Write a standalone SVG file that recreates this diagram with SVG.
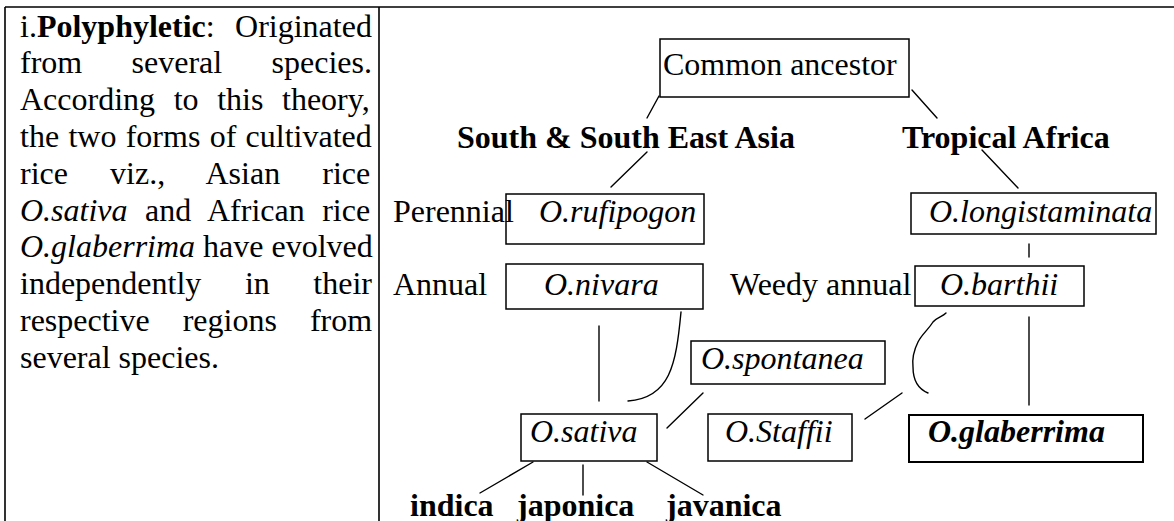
<svg xmlns="http://www.w3.org/2000/svg" width="1174" height="521" viewBox="0 0 1174 521">
<style>
text { font-family: "Liberation Serif", "Times New Roman", serif; font-size: 32px; fill: #000; }
.b { font-weight: bold; }
.i { font-style: italic; }
.box { fill: none; stroke: #000; stroke-width: 1.5; }
.ln { fill: none; stroke: #000; stroke-width: 1.4; stroke-linecap: round; }
.tbl { fill: none; stroke: #000; stroke-width: 1.6; }
</style>
<rect width="1174" height="521" fill="#fff"/>
<g id="table">
<path class="tbl" d="M5,7H1174 M5,7V521 M379,7V521"/>
</g>
<g id="description">
<text x="20" y="36.5" style="word-spacing:12.4px">i.<tspan class="b">Polyphyletic</tspan>: Originated</text>
<text x="20" y="73.3" style="word-spacing:41.4px">from several species.</text>
<text x="20" y="110.1" style="word-spacing:10.6px">According to this theory,</text>
<text x="20" y="146.9" style="word-spacing:1.3px">the two forms of cultivated</text>
<text x="20" y="183.7" style="word-spacing:34.1px">rice viz., Asian rice</text>
<text x="20" y="220.5" style="word-spacing:9.5px"><tspan class="i">O.sativa</tspan> and African rice</text>
<text x="20" y="257.3"><tspan class="i">O.glaberrima</tspan> have evolved</text>
<text x="20" y="294.1" style="word-spacing:35.6px">independently in their</text>
<text x="20" y="330.9" style="word-spacing:25px">respective regions from</text>
<text x="20" y="367.7">several species.</text>
</g>
<g id="connectors">
<path class="ln" d="M659,96 L647,118"/>
<path class="ln" d="M647,152 L611,187"/>
<path class="ln" d="M912,90 L937,118"/>
<path class="ln" d="M982,150 L1018,188"/>
<path class="ln" d="M1029,244 L1029,257" stroke="#777" stroke-width="1"/>
<path class="ln" d="M599,326 L599,401"/>
<path class="ln" d="M681,312 C676,365 670,398 628,401"/>
<path class="ln" d="M703,393 L667,428"/>
<path class="ln" d="M946,313 C942,317 937,317 933,322 C928,330 922,334 918,342 C914,350 912,358 913,367 C913,377 916,388 928,393" stroke-width="1.9"/>
<path class="ln" d="M902,393 L865,419"/>
<path class="ln" d="M1029,317 L1029,405"/>
<path class="ln" d="M533,462 L480,493"/>
<path class="ln" d="M583,465 L583,495"/>
<path class="ln" d="M647,462 L703,495"/>
</g>
<g id="node-common-ancestor"><rect class="box" x="660" y="39" width="249" height="58"/><text x="663" y="75">Common ancestor</text></g>
<g id="label-south-asia"><text class="b" x="457" y="148">South &amp; South East Asia</text></g>
<g id="label-tropical-africa"><text class="b" x="902" y="148">Tropical Africa</text></g>
<g id="label-perennial"><text x="393" y="222">Perennial</text></g>
<g id="node-rufipogon"><rect class="box" x="506" y="194" width="198" height="50"/><text class="i" x="539" y="222">O.rufipogon</text></g>
<g id="node-longistaminata"><rect class="box" x="911" y="193" width="245" height="41"/><text class="i" x="929" y="222">O.longistaminata</text></g>
<g id="label-annual"><text x="393" y="295">Annual</text></g>
<g id="node-nivara"><rect class="box" x="506" y="264" width="197" height="45"/><text class="i" x="544" y="295">O.nivara</text></g>
<g id="label-weedy-annual"><text x="730" y="295">Weedy annual</text></g>
<g id="node-barthii"><rect class="box" x="915" y="266" width="169" height="40"/><text class="i" x="940" y="295">O.barthii</text></g>
<g id="node-spontanea"><rect class="box" x="691" y="341" width="194" height="43"/><text class="i" x="701" y="369">O.spontanea</text></g>
<g id="node-sativa"><rect class="box" x="521" y="414" width="136" height="47"/><text class="i" x="530" y="442">O.sativa</text></g>
<g id="node-staffii"><rect class="box" x="708" y="414" width="144" height="47"/><text class="i" x="725" y="442">O.Staffii</text></g>
<g id="node-glaberrima"><rect class="box" x="909" y="415" width="234" height="47" style="stroke-width:2"/><text class="b i" x="928" y="442">O.glaberrima</text></g>
<g id="label-indica"><text class="b" x="410" y="516">indica</text></g>
<g id="label-japonica"><text class="b" x="517" y="516">japonica</text></g>
<g id="label-javanica"><text class="b" x="666" y="516">javanica</text></g>
</svg>
